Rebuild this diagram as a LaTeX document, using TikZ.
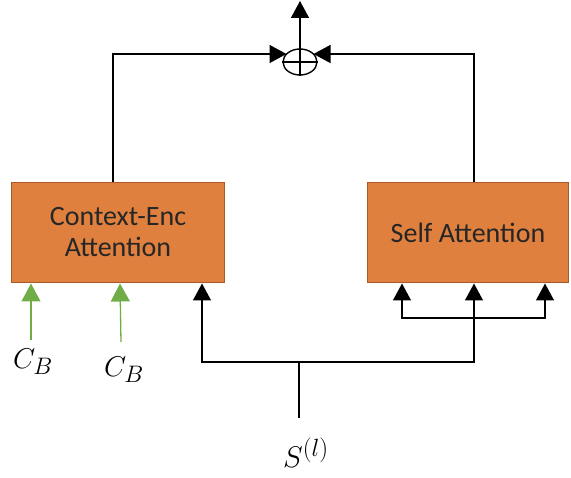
\documentclass[tikz,border=0pt]{standalone}
\usepackage{fontspec}
\newfontfamily\boxfont{Carlito}
\usetikzlibrary{arrows.meta,shapes.geometric}
\definecolor{boxfill}{HTML}{E0803F}
\definecolor{boxline}{HTML}{A9582A}
\definecolor{arrgreen}{HTML}{70AD47}
\tikzset{
  box/.style={draw=boxline, fill=boxfill, line width=1.5pt, minimum width=213pt, minimum height=100pt, inner sep=0pt,
    font=\boxfont\fontsize{28}{31}\selectfont, text=black!85, align=center},
  blk/.style={draw=black, line width=1.4pt, -{Triangle[length=17pt,width=18pt]}},
  ln/.style={draw=black, line width=1.4pt},
  grn/.style={draw=arrgreen, line width=1.3pt, -{Triangle[length=18pt,width=19pt]}},
  lbl/.style={inner sep=0pt, font=\Huge}
}
\begin{document}
\begin{tikzpicture}[x=1pt,y=-1pt]
\useasboundingbox (0,0) rectangle (571,478);
% boxes
\node[box] (ce) at (118,232.5) {Context-Enc\\Attention};
\node[box, minimum width=201pt] (sa) at (468,232.5) {Self Attention};
% sum
\node[draw, ellipse, line width=1.4pt, minimum width=34pt, minimum height=26pt, inner sep=0pt] (sum) at (300,62) {};
\draw[ln] (sum.north) -- (sum.south);
\draw[ln] (sum.west) -- (sum.east);
\coordinate (sumL) at (286.5,54);
\coordinate (sumR) at (313.5,54);
\coordinate (out) at (300,1);
\draw[blk] (sum.north) -- (out);
% top connectors
\coordinate (ceTop) at (113,182);
\coordinate (saTop) at (474,182);
\draw[blk] (ceTop) |- (sumL);
\draw[blk] (saTop) |- (sumR);
% green inputs
\coordinate (cb1s) at (31,340);
\coordinate (cb1e) at (31,283.5);
\coordinate (cb2s) at (121,342);
\coordinate (cb2e) at (120,283.5);
\draw[grn] (cb1s) -- (cb1e);
\draw[grn] (cb2s) -- (cb2e);
\node[lbl] (cb1) at (33,362) {\scalebox{1.15}{$C_B$}};
\node[lbl] (cb2) at (124,370) {\scalebox{1.15}{$C_B$}};
% S input
\node[lbl] (s) at (306,453) {\scalebox{1.2}{$S^{(l)}$}};
\coordinate (sTop) at (299,418);
\coordinate (jn) at (299,362);
\coordinate (ceIn) at (202,283.5);
\coordinate (saMid) at (474,283.5);
\coordinate (saL) at (402,283.5);
\coordinate (saR) at (545,283.5);
\coordinate (bar) at (474,318);
\draw[ln] (sTop) -- (jn);
\draw[blk] (jn) -| (ceIn);
\draw[blk] (jn) -| (saMid);
\draw[blk] (bar) -| (saL);
\draw[blk] (bar) -| (saR);
\end{tikzpicture}
\end{document}
